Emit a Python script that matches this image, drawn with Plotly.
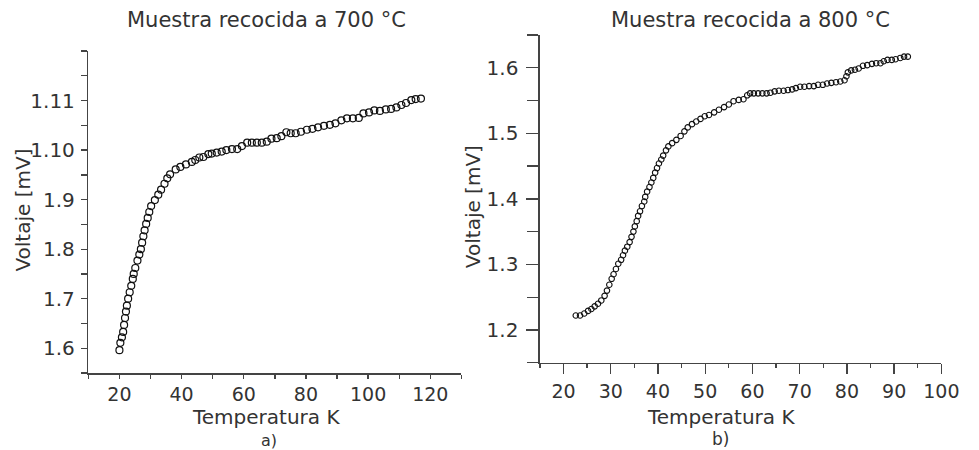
import plotly.graph_objects as go

# ---- Panel a) : Muestra recocida a 700 °C ----
temp_a = [20.0, 20.3, 20.8, 21.2, 21.5, 21.8, 22.1, 22.4, 22.8, 23.3, 23.8, 24.3, 24.6, 25.1,
          25.8, 26.4, 26.9, 27.3, 27.7, 28.1, 28.6, 29.1, 29.6, 30.2, 31.4, 32.5, 33.4, 34.5,
          35.4, 36.3, 38.1, 39.6, 41.4, 43.3, 44.4, 45.7, 47.0, 48.6, 49.7, 51.3, 52.9, 54.4,
          56.2, 57.9, 59.4, 61.1, 62.6, 64.2, 65.8, 67.4, 68.9, 70.6, 72.1, 73.7, 75.1, 76.7,
          78.4, 80.3, 82.1, 83.9, 85.8, 87.7, 89.5, 91.4, 93.2, 95.1, 97.0, 98.5, 100.3, 102.0,
          103.8, 105.7, 107.4, 109.1, 110.7, 112.2, 113.9, 115.3, 117.0]
# values on the panel's (linear) label scale 1.6 ... 2.1, labelled 1.6..1.9, 1.10, 1.11
volt_a = [1.596, 1.611, 1.622, 1.633, 1.647, 1.661, 1.674, 1.686, 1.700, 1.713, 1.726, 1.740,
          1.750, 1.762, 1.777, 1.789, 1.800, 1.813, 1.826, 1.838, 1.851, 1.863, 1.875, 1.887,
          1.899, 1.910, 1.920, 1.932, 1.943, 1.951, 1.961, 1.966, 1.971, 1.976, 1.980, 1.985,
          1.986, 1.992, 1.993, 1.995, 1.997, 2.000, 2.002, 2.002, 2.008, 2.015, 2.015, 2.015,
          2.015, 2.017, 2.023, 2.024, 2.028, 2.036, 2.034, 2.034, 2.037, 2.041, 2.043, 2.046,
          2.049, 2.051, 2.054, 2.060, 2.064, 2.064, 2.065, 2.074, 2.076, 2.080, 2.079, 2.082,
          2.083, 2.086, 2.091, 2.095, 2.101, 2.103, 2.104]
ytick_vals_a = [1.6, 1.7, 1.8, 1.9, 2.0, 2.1]
ytick_text_a = ["1.6", "1.7", "1.8", "1.9", "1.10", "1.11"]

# ---- Panel b) : Muestra recocida a 800 °C ----
temp_b = [22.6, 23.5, 24.4, 25.2, 25.9, 26.6, 27.3, 28.0, 28.7, 29.2, 29.7, 30.2, 30.6, 31.1,
          31.6, 32.2, 32.6, 33.0, 33.5, 34.0, 34.4, 34.8, 35.1, 35.5, 35.8, 36.2, 36.6, 37.1,
          37.3, 37.7, 38.2, 38.6, 39.0, 39.4, 39.8, 40.2, 40.7, 41.1, 41.7, 42.2, 43.0, 43.9,
          44.8, 45.6, 46.3, 47.2, 48.1, 49.0, 49.9, 50.8, 51.9, 52.9, 54.0, 55.0, 56.0, 57.1,
          58.1, 58.9, 59.5, 60.3, 61.2, 62.1, 63.0, 63.8, 64.7, 65.6, 66.6, 67.5, 68.4, 69.2,
          70.1, 71.0, 72.0, 73.0, 73.9, 74.9, 75.8, 76.7, 77.7, 78.6, 79.5, 79.9, 80.2, 80.9,
          81.7, 82.5, 83.4, 84.3, 85.3, 86.2, 87.1, 87.8, 88.6, 89.5, 90.3, 91.3, 92.1, 92.9]
volt_b = [1.222, 1.222, 1.225, 1.229, 1.232, 1.236, 1.240, 1.245, 1.252, 1.260, 1.269, 1.278,
          1.285, 1.293, 1.301, 1.307, 1.314, 1.321, 1.327, 1.334, 1.342, 1.350, 1.358, 1.366,
          1.374, 1.381, 1.389, 1.396, 1.403, 1.411, 1.418, 1.425, 1.432, 1.440, 1.447, 1.454,
          1.460, 1.466, 1.474, 1.480, 1.485, 1.490, 1.496, 1.503, 1.509, 1.514, 1.518, 1.522,
          1.526, 1.528, 1.532, 1.536, 1.540, 1.544, 1.549, 1.551, 1.552, 1.558, 1.561, 1.561,
          1.561, 1.561, 1.561, 1.562, 1.564, 1.565, 1.565, 1.566, 1.567, 1.569, 1.571, 1.571,
          1.572, 1.572, 1.574, 1.574, 1.576, 1.577, 1.578, 1.579, 1.581, 1.587, 1.593, 1.596,
          1.597, 1.599, 1.603, 1.604, 1.606, 1.607, 1.607, 1.610, 1.612, 1.612, 1.613, 1.615,
          1.617, 1.617]

FONT = "DejaVu Sans"
TXT = "#333333"
W, H = 979, 450

fig = go.Figure()
fig.add_trace(go.Scatter(x=temp_a, y=volt_a, mode="markers", xaxis="x", yaxis="y",
                         marker=dict(symbol="circle-open", size=7, color="#111111",
                                     line=dict(width=1.2)),
                         showlegend=False, hoverinfo="skip"))
fig.add_trace(go.Scatter(x=temp_b, y=volt_b, mode="markers", xaxis="x2", yaxis="y2",
                         marker=dict(symbol="circle-open", size=5.5, color="#111111",
                                     line=dict(width=1.1)),
                         showlegend=False, hoverinfo="skip"))

axis_common = dict(showline=True, linecolor="#444444", linewidth=1.5, showgrid=False,
                   zeroline=False, ticks="outside", tickcolor="#444444", tickwidth=1.3,
                   mirror=False)
yfont = dict(family=FONT, size=20, color=TXT)
xfont = dict(family=FONT, size=19, color=TXT)

def px(x):
    return x / W

def py(y):
    return 1 - y / H

minor_style = dict(ticks="outside", tickcolor="#444444", tickwidth=1.3)

fig.update_layout(
    width=W, height=H, margin=dict(l=0, r=0, t=0, b=0),
    paper_bgcolor="white", plot_bgcolor="white",
    xaxis=dict(domain=[px(90), px(470)], range=[10, 130], anchor="y",
               tickmode="linear", tick0=0, dtick=20, ticklen=4, tickfont=xfont,
               minor=dict(tickmode="linear", tick0=0, dtick=10, ticklen=4, **minor_style),
               **axis_common),
    yaxis=dict(domain=[py(373), py(51)], range=[1.55, 2.2], anchor="x",
               tickmode="array", tickvals=ytick_vals_a, ticktext=ytick_text_a, ticklen=6,
               ticklabelstandoff=2, tickfont=yfont,
               minor=dict(tickmode="linear", tick0=1.55, dtick=0.05, ticklen=6, **minor_style),
               **axis_common),
    xaxis2=dict(domain=[px(550), px(959)], range=[15, 100], anchor="y2",
                tickmode="linear", tick0=0, dtick=10, ticklen=10, ticklabelstandoff=1,
                tickfont=xfont,
                minor=dict(tickmode="linear", tick0=0, dtick=5, ticklen=4, **minor_style),
                **axis_common),
    yaxis2=dict(domain=[py(362.7), py(35)], range=[1.15, 1.65], anchor="x2",
                tickmode="linear", tick0=1.2, dtick=0.1, ticklen=12, tickformat=".1f",
                ticklabelstandoff=4, tickfont=yfont,
                minor=dict(tickmode="linear", tick0=1.15, dtick=0.05, ticklen=11, **minor_style),
                **axis_common),
)

def ann(text, x, y, size=20, angle=0):
    fig.add_annotation(text=text, x=px(x), y=py(y), xref="paper", yref="paper",
                       xanchor="center", yanchor="middle", showarrow=False, textangle=angle,
                       font=dict(family=FONT, size=size, color=TXT))

ann("Muestra recocida a 700 °C", 272, 20, size=21)
ann("Muestra recocida a 800 °C", 765, 20, size=21)
ann("Voltaje [mV]", 23, 210, angle=-90)
ann("Voltaje [mV]", 482, 207, angle=-90)
ann("Temperatura K", 271, 417, size=20)
ann("Temperatura K", 734, 417, size=20)
ann("a)", 274, 440, size=16)
ann("b)", 734, 439, size=17)

# remove the default page margin so the figure sits at the window's top-left corner
fig.write_html("out.html", config={"displayModeBar": False, "staticPlot": True},
               post_script="document.body.style.margin='0px';document.body.style.padding='0px';")
